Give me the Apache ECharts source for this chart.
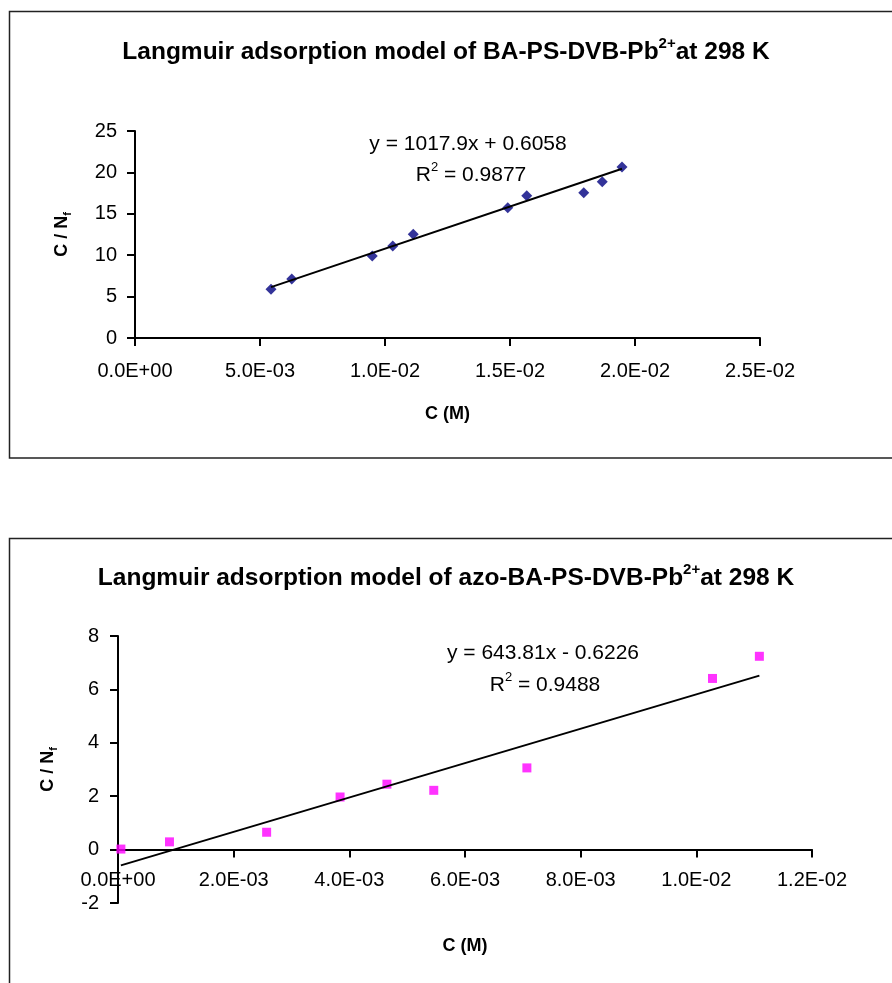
<!DOCTYPE html>
<html><head><meta charset="utf-8">
<script src="https://cdn.jsdelivr.net/npm/echarts@6/dist/echarts.min.js"></script>
<style>html,body{margin:0;padding:0;background:#fff}#c{width:892px;height:983px}</style>
</head><body><div id="c"></div>
<script>
// Top chart: BA-PS-DVB-Pb2+
const topX = [0.00544, 0.00627, 0.00949, 0.01031, 0.01113, 0.01491, 0.01567, 0.01795, 0.01869, 0.01948];
const topY = [5.88, 7.13, 9.90, 11.11, 12.52, 15.74, 17.19, 17.55, 18.88, 20.65];
const topSlope = 1017.9, topIntercept = 0.6058, topR2 = '0.9877';
const topXTicks = {min: 0, max: 0.025, interval: 0.005};
const topYTicks = {min: 0, max: 25, interval: 5};
// Bottom chart: azo-BA-PS-DVB-Pb2+
const botX = [0.00005, 0.00089, 0.00257, 0.00384, 0.00465, 0.00546, 0.00707, 0.01028, 0.01109];
const botY = [0.02, 0.29, 0.65, 1.97, 2.45, 2.22, 3.06, 6.41, 7.24];
const botSlope = 643.81, botIntercept = -0.6226, botR2 = '0.9488';
const botXTicks = {min: 0, max: 0.012, interval: 0.002};
const botYTicks = {min: -2, max: 8, interval: 2};

const FF = '"Liberation Sans", Arial, sans-serif';
function sci(v){
  if (Math.abs(v) < 1e-15) return '0.0E+00';
  const e = Math.floor(Math.log10(Math.abs(v)) + 1e-9);
  const m = v / Math.pow(10, e);
  return m.toFixed(1) + 'E' + (e < 0 ? '-' : '+') + String(Math.abs(e)).padStart(2, '0');
}
function pairs(xs, ys){ return xs.map((x, i) => [x, ys[i]]); }
function fitLine(xs, s, b){
  const x0 = Math.min(...xs), x1 = Math.max(...xs);
  return [[x0, s * x0 + b], [x1, s * x1 + b]];
}
const G = [
  {left: 135, top: 131, width: 625, height: 207},
  {left: 118, top: 636, width: 694, height: 267}
];
const axisTick = {show: true, inside: false, length: 8, lineStyle: {color: '#000', width: 2}};
function xAx(g, t, yT, margin, gap){
  // place the x axis at y = 0 of its grid
  const zeroOff = -G[g].height * (0 - yT.min) / (yT.max - yT.min);
  return {type: 'value', gridIndex: g, min: t.min, max: t.max, interval: t.interval,
    position: 'bottom', offset: zeroOff,
    axisLine: {show: true, onZero: false, lineStyle: {color: '#000', width: 2}},
    axisTick, splitLine: {show: false},
    axisLabel: {formatter: sci, color: '#000', fontSize: 20, fontFamily: FF, margin: margin, hideOverlap: false},
    name: 'C (M)', nameLocation: 'middle', nameGap: gap,
    nameTextStyle: {color: '#000', fontSize: 18, fontWeight: 'bold', fontFamily: FF}};
}
function yAx(g, t, margin, gap){
  return {type: 'value', gridIndex: g, min: t.min, max: t.max, interval: t.interval,
    axisLine: {show: true, onZero: false, lineStyle: {color: '#000', width: 2}},
    axisTick, splitLine: {show: false},
    axisLabel: {color: '#000', fontSize: 20, fontFamily: FF, margin: margin},
    name: '{a|C / N}{b|f}', nameLocation: 'middle', nameGap: gap, nameRotate: 90,
    nameTextStyle: {rich: {
      a: {color: '#000', fontSize: 18, fontWeight: 'bold', fontFamily: FF, lineHeight: 22},
      b: {color: '#000', fontSize: 11, fontWeight: 'bold', fontFamily: FF, verticalAlign: 'bottom', lineHeight: 16}}}};
}
function titleText(y, main){
  return {type: 'text', left: 'center', top: y, style: {
    text: '{t|' + main + '}{s|2+}{t|at 298 K}',
    rich: {t: {fontSize: 24.5, fontWeight: 'bold', fontFamily: FF, fill: '#000', lineHeight: 29, verticalAlign: 'bottom'},
           s: {fontSize: 15, fontWeight: 'bold', fontFamily: FF, fill: '#000', lineHeight: 15, verticalAlign: 'top'}}}};
}
function eqText(cx, y, txt){
  return {type: 'text', x: cx, y: y, style: {text: txt, fontSize: 21, fontFamily: FF, fill: '#000', align: 'center', verticalAlign: 'middle'}};
}
function r2Text(cx, y, val){
  return {type: 'text', x: cx, y: y, style: {text: '{a|R}{s|2}{a| = ' + val + '}', align: 'center', verticalAlign: 'middle',
    rich: {a: {fontSize: 21, fontFamily: FF, fill: '#000', lineHeight: 25, verticalAlign: 'bottom'},
           s: {fontSize: 13, fontFamily: FF, fill: '#000', lineHeight: 14, verticalAlign: 'top'}}}};
}
function fmtEq(s, b){ return 'y = ' + s + 'x ' + (b < 0 ? '- ' : '+ ') + Math.abs(b); }

const chart = echarts.init(document.getElementById('c'), null, {renderer: 'canvas'});
chart.setOption({
  backgroundColor: '#fff',
  animation: false,
  grid: G.map(g => Object.assign({containLabel: false, outerBoundsMode: 'none'}, g)),
  xAxis: [xAx(0, topXTicks, topYTicks, 23, 67), xAx(1, botXTicks, botYTicks, 21, 87)],
  yAxis: [yAx(0, topYTicks, 18, 62), yAx(1, botYTicks, 19, 59)],
  series: [
    {type: 'scatter', xAxisIndex: 0, yAxisIndex: 0, data: pairs(topX, topY), symbol: 'diamond', symbolSize: 11,
     itemStyle: {color: '#000080'}, z: 3},
    {type: 'line', xAxisIndex: 0, yAxisIndex: 0, data: fitLine(topX, topSlope, topIntercept), showSymbol: false,
     lineStyle: {color: '#000', width: 2}, z: 4},
    {type: 'scatter', xAxisIndex: 1, yAxisIndex: 1, data: pairs(botX, botY), symbol: 'rect', symbolSize: 9,
     itemStyle: {color: '#FF00FF'}, z: 3},
    {type: 'line', xAxisIndex: 1, yAxisIndex: 1, data: fitLine(botX, botSlope, botIntercept), showSymbol: false,
     lineStyle: {color: '#000', width: 2}, z: 4}
  ],
  graphic: [
    {type: 'rect', shape: {x: 9.5, y: 11.5, width: 1000, height: 446.5}, style: {fill: 'none', stroke: '#222', lineWidth: 1.5}, z: 0},
    {type: 'rect', shape: {x: 9.5, y: 538.5, width: 1000, height: 1000}, style: {fill: 'none', stroke: '#222', lineWidth: 1.5}, z: 0},
    titleText(36, 'Langmuir adsorption model of BA-PS-DVB-Pb'),
    titleText(562, 'Langmuir adsorption model of azo-BA-PS-DVB-Pb'),
    eqText(468, 144, fmtEq(topSlope, topIntercept)),
    r2Text(471, 173, topR2),
    eqText(543, 653, fmtEq(botSlope, botIntercept)),
    r2Text(545, 683, botR2)
  ]
});
</script></body></html>
